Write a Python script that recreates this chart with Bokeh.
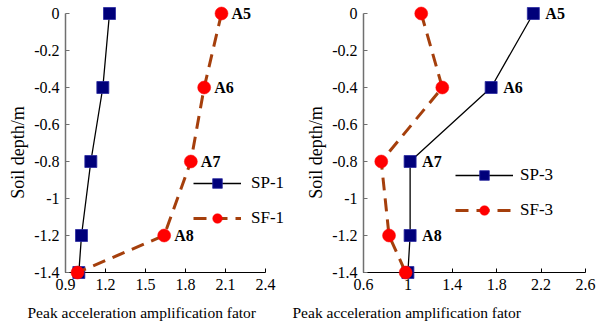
from bokeh.plotting import figure
from bokeh.layouts import row
from bokeh.models import FixedTicker, Legend, LegendItem, Title, Range1d
from bokeh.core.properties import value
from bokeh.embed import file_html
from bokeh.resources import INLINE

# ---- data ----
depth = [0, -0.4, -0.8, -1.2, -1.4]
sp1 = [1.23, 1.18, 1.09, 1.02, 1.00]
sf1 = [2.07, 1.94, 1.84, 1.64, 0.99]
sp3 = [2.13, 1.75, 1.02, 1.02, 1.00]
sf3 = [1.12, 1.31, 0.76, 0.83, 0.98]
point_labels = ["A5", "A6", "A7", "A8"]
y_ticks = [0, -0.2, -0.4, -0.6, -0.8, -1.0, -1.2, -1.4]
y_tick_labels = ["0", "-0.2", "-0.4", "-0.6", "-0.8", "-1", "-1.2", "-1.4"]
x_ticks_1 = [0.9, 1.2, 1.5, 1.8, 2.1, 2.4]
x_tick_labels_1 = ["0.9", "1.2", "1.5", "1.8", "2.1", "2.4"]
x_ticks_3 = [0.6, 1.0, 1.4, 1.8, 2.2, 2.6]
x_tick_labels_3 = ["0.6", "1", "1.4", "1.8", "2.2", "2.6"]
x_label = "Peak acceleration amplification fator"
y_label = "Soil depth/m"

FONT = "Liberation Serif"
NAVY = "#00007a"
RED = "#ff0000"
BROWN = "#a53f0c"


def make_panel(sp, sf, sp_name, sf_name, xticks, xlabels, x_end, label_series, lbl_off,
               width, border_left, border_right, legend_loc, legend_gw, legend_standoff,
               xtitle_off):
    p = figure(width=width, height=329, output_backend="svg", toolbar_location=None,
               x_range=Range1d(xticks[0], x_end), y_range=Range1d(-1.4, 0),
               min_border_left=border_left, min_border_right=border_right,
               min_border_top=13, min_border_bottom=56)
    p.outline_line_color = None
    p.xgrid.visible = False
    p.ygrid.visible = False
    p.background_fill_color = "white"

    # axes
    p.xaxis.ticker = FixedTicker(ticks=xticks)
    p.xaxis.bounds = (xticks[0], xticks[-1])
    p.xaxis.major_label_overrides = {t: s for t, s in zip(xticks, xlabels)}
    p.yaxis.ticker = FixedTicker(ticks=y_ticks)
    p.yaxis.major_label_overrides = {t: s for t, s in zip(y_ticks, y_tick_labels)}
    for ax in (p.xaxis[0], p.yaxis[0]):
        ax.minor_tick_line_color = None
        ax.major_tick_in = 4
        ax.major_tick_out = 0
        ax.major_label_text_font = FONT
        ax.major_label_text_font_size = "16px"
        ax.major_label_text_color = "black"
        ax.major_label_standoff = 6
    p.xaxis.axis_line_color = "black"
    p.xaxis.axis_line_width = 1.2
    p.xaxis.major_tick_line_color = "black"
    p.yaxis.axis_line_color = "#707070"
    p.yaxis.axis_line_width = 1.5
    p.yaxis.major_tick_line_color = "#707070"
    p.yaxis.major_tick_line_width = 1.2

    # series
    r1 = p.line(sp, depth, line_color="black", line_width=1.3, level="overlay")
    r2 = p.scatter(sp, depth, marker="square", size=12, fill_color=NAVY,
                   line_color="#2a2aa0", line_width=0.8, level="overlay")
    r3 = p.line(sf, depth, line_color=BROWN, line_width=3, line_dash="13 8", level="overlay")
    r4 = p.scatter(sf, depth, marker="circle", size=13, fill_color=RED,
                   line_color=RED, line_width=0.5, level="overlay")

    lx = label_series[:4]
    p.text(x=lx, y=depth[:4], text=point_labels, x_offset=lbl_off, text_baseline="middle",
           text_align="left", text_font=value(FONT), text_font_style="bold",
           text_font_size="16px", text_color="black", level="overlay")

    legend = Legend(items=[LegendItem(label=sp_name, renderers=[r1, r2]),
                           LegendItem(label=sf_name, renderers=[r3, r4])],
                    location=legend_loc, glyph_width=legend_gw, glyph_height=24,
                    spacing=11, label_standoff=legend_standoff, padding=0, margin=0,
                    border_line_color=None, background_fill_alpha=0,
                    label_text_font=FONT, label_text_font_size="17px",
                    label_text_color="black", label_height=24)
    p.add_layout(legend)

    p.add_layout(Title(text=x_label, align="left", offset=xtitle_off, text_font=FONT,
                       text_font_size="15.5px", text_font_style="normal",
                       text_color="black", standoff=18), "below")
    p.add_layout(Title(text=y_label, align="left", offset=73.7, text_font=FONT,
                       text_font_size="18px", text_font_style="normal",
                       text_color="black", standoff=8), "left")
    return p


p1 = make_panel(sp1, sf1, "SP-1", "SF-1", x_ticks_1, x_tick_labels_1, 2.5575, sf1, 10,
                width=288, border_left=65, border_right=2, legend_loc=(128, 42),
                legend_gw=48, legend_standoff=10, xtitle_off=-38)
p2 = make_panel(sp3, sf3, "SP-3", "SF-3", x_ticks_3, x_tick_labels_3, 2.6, sp3, 12,
                width=323, border_left=75, border_right=26, legend_loc=(92, 50),
                legend_gw=58, legend_standoff=7, xtitle_off=-71)

layout = row(p1, p2)
open("out.html", "w").write(file_html(layout, INLINE))
